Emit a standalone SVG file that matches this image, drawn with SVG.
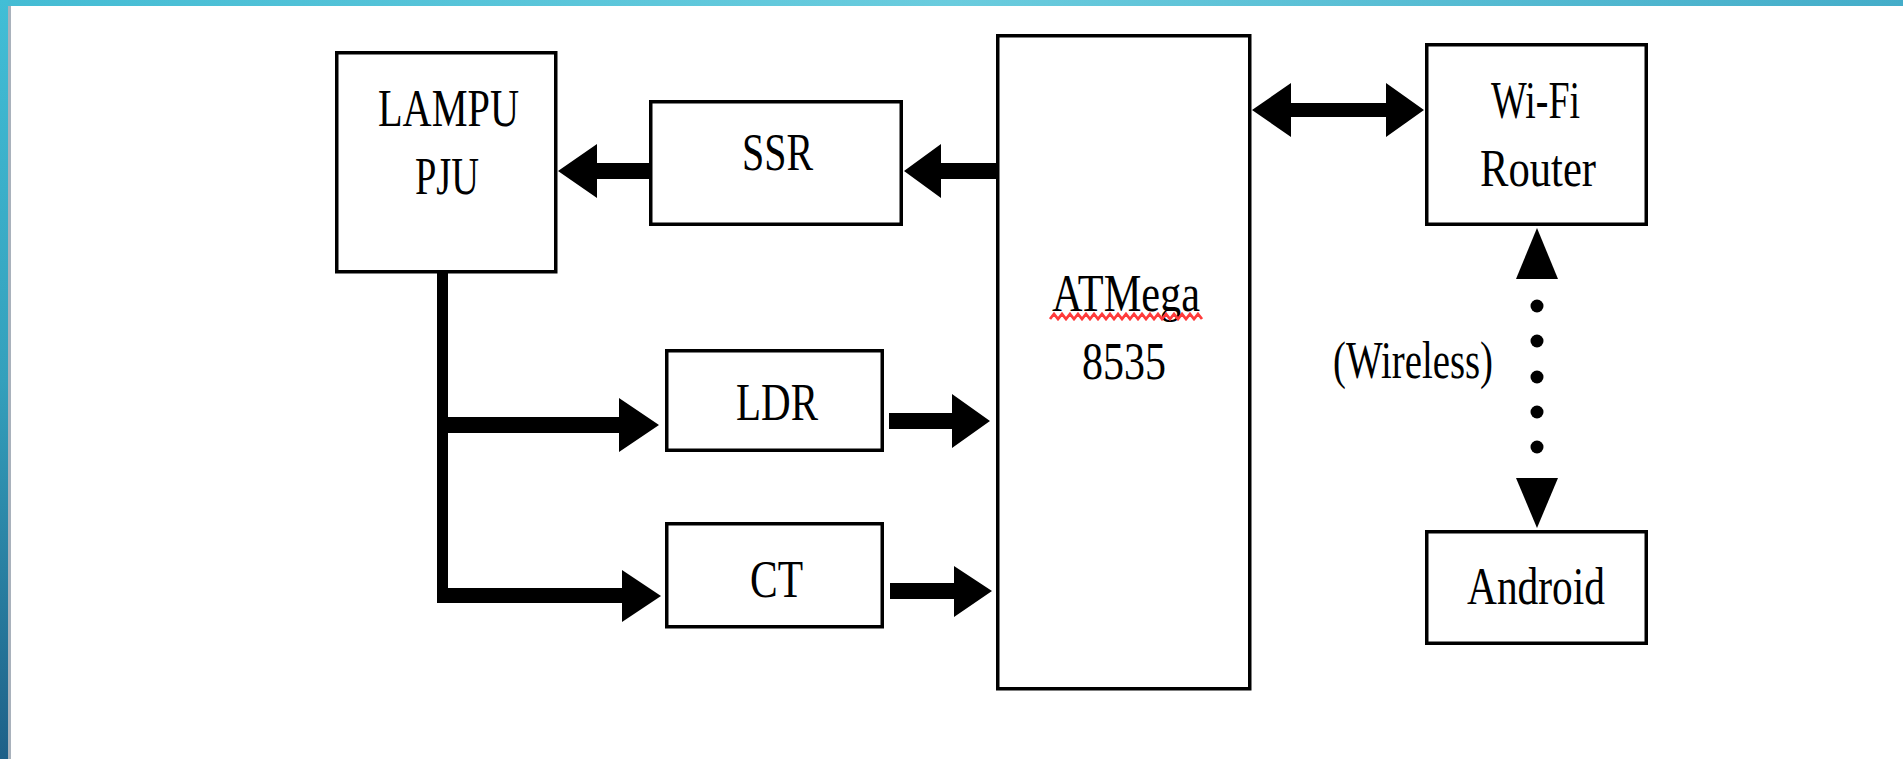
<svg xmlns="http://www.w3.org/2000/svg" width="1903" height="759" viewBox="0 0 1903 759">
  <defs>
    <linearGradient id="topbar" x1="0" y1="0" x2="1" y2="0">
      <stop offset="0" stop-color="#44bcd4"/>
      <stop offset="0.5" stop-color="#6accde"/>
      <stop offset="1" stop-color="#44adc9"/>
    </linearGradient>
    <linearGradient id="sidebar" x1="0" y1="0" x2="0" y2="1">
      <stop offset="0" stop-color="#42bed6"/>
      <stop offset="0.5" stop-color="#34a0bc"/>
      <stop offset="1" stop-color="#1e6088"/>
    </linearGradient>
    <style>
      .box { fill: #ffffff; stroke: #000000; stroke-width: 3.5; }
      .lbl { font-family: "Liberation Serif", "Times New Roman", serif; font-size: 52px; fill: #000000; }
      .arr { fill: #000000; stroke: none; }
      .dot { fill: #000000; }
    </style>
  </defs>

  <rect x="0" y="0" width="1903" height="759" fill="#ffffff"/>
  <rect x="0" y="0" width="1903" height="6" fill="url(#topbar)"/>
  <rect x="0" y="0" width="8" height="759" fill="url(#sidebar)"/>
  <rect x="8" y="6" width="3" height="753" fill="#a9b2bc"/>

  <g id="connectors">
    <!-- ATMega -> SSR -->
    <polygon class="arr" points="996,163 941,163 941,144 904,171 941,198 941,179 996,179"/>
    <!-- SSR -> LAMPU -->
    <polygon class="arr" points="652,163 597,163 597,144 558,171 597,198 597,179 652,179"/>
    <!-- LAMPU trunk -->
    <rect class="arr" x="437" y="272" width="11" height="330"/>
    <!-- trunk -> LDR -->
    <polygon class="arr" points="437,417 619,417 619,398 659,425 619,452 619,433 437,433"/>
    <!-- trunk -> CT -->
    <polygon class="arr" points="437,588 622,588 622,570 661,596 622,622 622,603 437,603"/>
    <!-- LDR -> ATMega -->
    <polygon class="arr" points="889,413 952,413 952,394 990,421 952,448 952,429 889,429"/>
    <!-- CT -> ATMega -->
    <polygon class="arr" points="890,583 954,583 954,566 992,591 954,617 954,599 890,599"/>
    <!-- ATMega <-> Wi-Fi Router -->
    <polygon class="arr" points="1252,110 1291,83 1291,103 1386,103 1386,83 1424,110 1386,137 1386,117 1291,117 1291,137"/>
    <!-- Wi-Fi Router <-> Android (wireless, dotted) -->
    <polygon class="arr" points="1537,228 1558,279 1516,279"/>
    <circle class="dot" cx="1537" cy="306" r="6.5"/>
    <circle class="dot" cx="1537" cy="341" r="6.5"/>
    <circle class="dot" cx="1537" cy="377" r="6.5"/>
    <circle class="dot" cx="1537" cy="412" r="6.5"/>
    <circle class="dot" cx="1537" cy="447" r="6.5"/>
    <polygon class="arr" points="1516,478 1558,478 1537,528"/>
    <text class="lbl" x="1333" y="378" textLength="160" lengthAdjust="spacingAndGlyphs">(Wireless)</text>
  </g>

  <g id="lampu">
    <rect class="box" x="336.75" y="52.75" width="219" height="219"/>
    <text class="lbl" x="378" y="126" textLength="141" lengthAdjust="spacingAndGlyphs">LAMPU</text>
    <text class="lbl" x="415" y="194" textLength="64" lengthAdjust="spacingAndGlyphs">PJU</text>
  </g>

  <g id="ssr">
    <rect class="box" x="650.75" y="101.75" width="250.5" height="122.5"/>
    <text class="lbl" x="742" y="170" textLength="71" lengthAdjust="spacingAndGlyphs">SSR</text>
  </g>

  <g id="ldr">
    <rect class="box" x="666.75" y="350.75" width="215.5" height="99.5"/>
    <text class="lbl" x="736" y="420" textLength="82" lengthAdjust="spacingAndGlyphs">LDR</text>
  </g>

  <g id="ct">
    <rect class="box" x="666.75" y="523.75" width="215.5" height="103"/>
    <text class="lbl" x="750" y="597" textLength="53" lengthAdjust="spacingAndGlyphs">CT</text>
  </g>

  <g id="atmega">
    <rect class="box" x="997.75" y="35.75" width="252" height="653"/>
    <text class="lbl" x="1052" y="311" textLength="148" lengthAdjust="spacingAndGlyphs">ATMega</text>
    <polyline points="1050,319 1054,314 1058,319 1062,314 1066,319 1070,314 1074,319 1078,314 1082,319 1086,314 1090,319 1094,314 1098,319 1102,314 1106,319 1110,314 1114,319 1118,314 1122,319 1126,314 1130,319 1134,314 1138,319 1142,314 1146,319 1150,314 1154,319 1158,314 1162,319 1166,314 1170,319 1174,314 1178,319 1182,314 1186,319 1190,314 1194,319 1198,314 1202,319" fill="none" stroke="#ff3b3b" stroke-width="2.8"/>
    <text class="lbl" x="1082" y="379" textLength="84" lengthAdjust="spacingAndGlyphs">8535</text>
  </g>

  <g id="wifi-router">
    <rect class="box" x="1426.75" y="44.75" width="219.5" height="179.5"/>
    <text class="lbl" x="1491" y="118" textLength="89" lengthAdjust="spacingAndGlyphs">Wi-Fi</text>
    <text class="lbl" x="1480" y="186" textLength="116" lengthAdjust="spacingAndGlyphs">Router</text>
  </g>

  <g id="android">
    <rect class="box" x="1426.75" y="531.75" width="219.5" height="111.5"/>
    <text class="lbl" x="1467" y="604" textLength="138" lengthAdjust="spacingAndGlyphs">Android</text>
  </g>
</svg>
